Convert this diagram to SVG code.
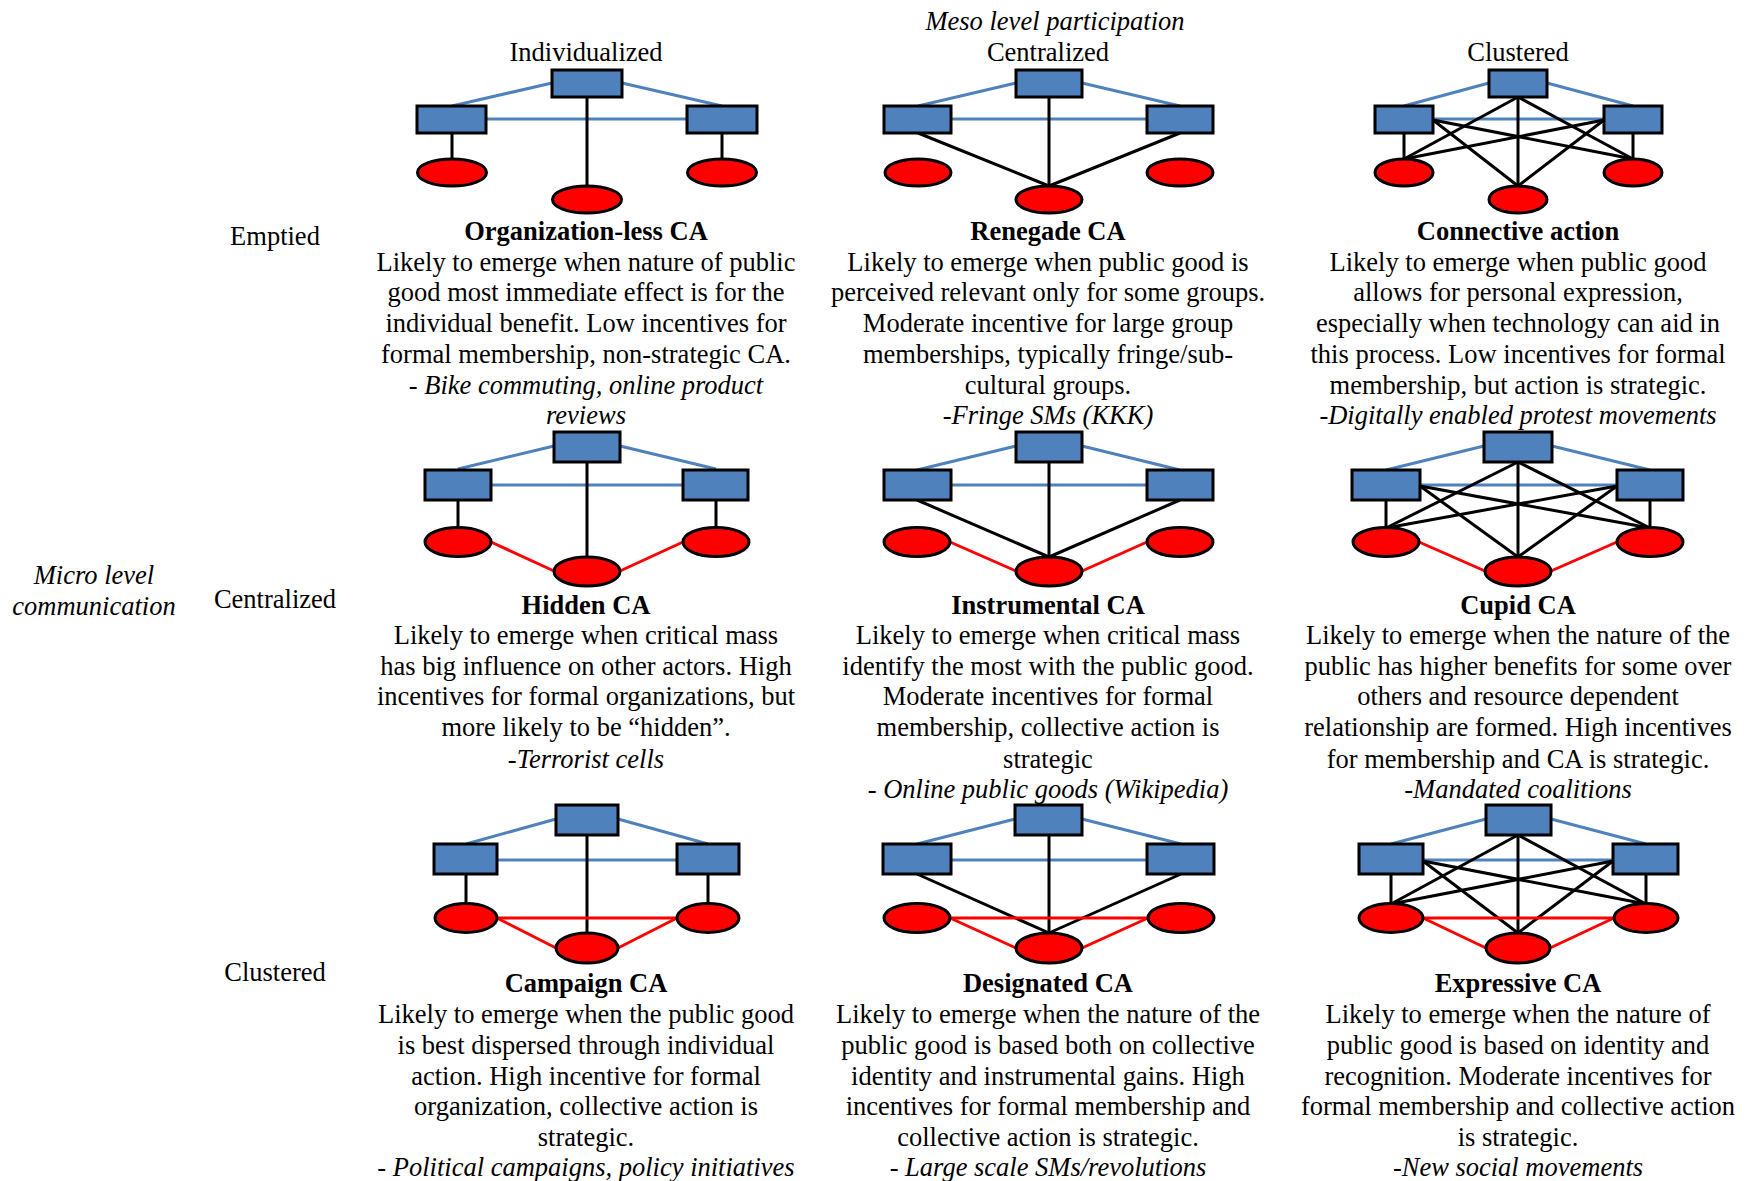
<svg xmlns="http://www.w3.org/2000/svg" width="1751" height="1181" viewBox="0 0 1751 1181">
  <style>
    .org { fill: #4F81BD; stroke: #000; stroke-width: 3; }
    .ind { fill: #FF0000; stroke: #000; stroke-width: 3; }
    .b { stroke: #4F81BD; stroke-width: 3; fill: none; }
    .k { stroke: #000; stroke-width: 3; fill: none; }
    .r { stroke: #FF0000; stroke-width: 3; fill: none; }
    text { font-family: "Liberation Serif", "Times New Roman", serif; font-size: 26.5px; fill: #000; text-anchor: middle; }
    .ttl { font-weight: bold; }
    .it { font-style: italic; }
  </style>
  <rect width="1751" height="1181" fill="#fff"/>

  <!-- axis headings -->
  <g id="headings">
    <text class="it" x="1055" y="30">Meso level participation</text>
    <text x="586" y="61">Individualized</text>
    <text x="1048" y="61">Centralized</text>
    <text x="1518" y="61">Clustered</text>
    <text class="it" x="94" y="584">Micro level</text>
    <text class="it" x="94" y="615">communication</text>
    <text x="275" y="245">Emptied</text>
    <text x="275" y="608">Centralized</text>
    <text x="275" y="981">Clustered</text>
  </g>

  <!-- links between organisations (blue), organisation-to-individual (black), individual-to-individual (red) -->
  <g id="connectors">
    <!-- row 1 -->
    <line class="b" x1="552" y1="83" x2="452" y2="106"/>
    <line class="b" x1="622" y1="83" x2="722" y2="106"/>
    <line class="b" x1="486" y1="119" x2="687" y2="119"/>
    <line class="k" x1="452" y1="133" x2="452" y2="159"/>
    <line class="k" x1="587" y1="97" x2="587" y2="186"/>
    <line class="k" x1="722" y1="133" x2="722" y2="159"/>

    <line class="b" x1="1016" y1="83" x2="918" y2="106"/>
    <line class="b" x1="1082" y1="83" x2="1180" y2="106"/>
    <line class="b" x1="951" y1="119" x2="1147" y2="119"/>
    <line class="k" x1="918" y1="133" x2="1049" y2="186"/>
    <line class="k" x1="1049" y1="97" x2="1049" y2="186"/>
    <line class="k" x1="1180" y1="133" x2="1049" y2="186"/>

    <line class="b" x1="1489" y1="83" x2="1404" y2="106"/>
    <line class="b" x1="1547" y1="83" x2="1633" y2="106"/>
    <line class="b" x1="1433" y1="119" x2="1604" y2="119"/>
    <line class="k" x1="1404" y1="133" x2="1404" y2="159"/>
    <line class="k" x1="1633" y1="133" x2="1633" y2="159"/>
    <line class="k" x1="1518" y1="97" x2="1404" y2="159"/>
    <line class="k" x1="1518" y1="97" x2="1633" y2="159"/>
    <line class="k" x1="1518" y1="97" x2="1518" y2="186"/>
    <line class="k" x1="1433" y1="120" x2="1633" y2="159"/>
    <line class="k" x1="1433" y1="120" x2="1518" y2="186"/>
    <line class="k" x1="1604" y1="120" x2="1404" y2="159"/>
    <line class="k" x1="1604" y1="120" x2="1518" y2="186"/>

    <!-- row 2 -->
    <line class="b" x1="554" y1="446" x2="458" y2="469"/>
    <line class="b" x1="620" y1="446" x2="716" y2="469"/>
    <line class="b" x1="491" y1="485" x2="683" y2="485"/>
    <line class="k" x1="458" y1="500" x2="458" y2="528"/>
    <line class="k" x1="587" y1="462" x2="587" y2="557"/>
    <line class="k" x1="716" y1="500" x2="716" y2="528"/>
    <line class="r" x1="491" y1="542" x2="554" y2="571"/>
    <line class="r" x1="620" y1="571" x2="683" y2="542"/>

    <line class="b" x1="1016" y1="446" x2="917" y2="470"/>
    <line class="b" x1="1082" y1="446" x2="1180" y2="470"/>
    <line class="b" x1="951" y1="485" x2="1147" y2="485"/>
    <line class="k" x1="917" y1="500" x2="1049" y2="557"/>
    <line class="k" x1="1049" y1="462" x2="1049" y2="557"/>
    <line class="k" x1="1180" y1="500" x2="1049" y2="557"/>
    <line class="r" x1="950" y1="542" x2="1016" y2="571"/>
    <line class="r" x1="1082" y1="571" x2="1147" y2="542"/>

    <line class="b" x1="1484" y1="446" x2="1386" y2="470"/>
    <line class="b" x1="1552" y1="446" x2="1650" y2="470"/>
    <line class="b" x1="1420" y1="485" x2="1617" y2="485"/>
    <line class="k" x1="1386" y1="500" x2="1386" y2="528"/>
    <line class="k" x1="1650" y1="500" x2="1650" y2="528"/>
    <line class="k" x1="1518" y1="462" x2="1386" y2="528"/>
    <line class="k" x1="1518" y1="462" x2="1650" y2="528"/>
    <line class="k" x1="1518" y1="462" x2="1518" y2="557"/>
    <line class="k" x1="1420" y1="486" x2="1650" y2="528"/>
    <line class="k" x1="1420" y1="486" x2="1518" y2="557"/>
    <line class="k" x1="1617" y1="486" x2="1386" y2="528"/>
    <line class="k" x1="1617" y1="486" x2="1518" y2="557"/>
    <line class="r" x1="1419" y1="542" x2="1485" y2="571"/>
    <line class="r" x1="1551" y1="571" x2="1617" y2="542"/>

    <!-- row 3 -->
    <line class="b" x1="556" y1="819" x2="466" y2="844"/>
    <line class="b" x1="618" y1="819" x2="708" y2="844"/>
    <line class="b" x1="497" y1="860" x2="677" y2="860"/>
    <line class="k" x1="466" y1="874" x2="466" y2="904"/>
    <line class="k" x1="587" y1="835" x2="587" y2="933"/>
    <line class="k" x1="708" y1="874" x2="708" y2="904"/>
    <line class="r" x1="497" y1="918" x2="677" y2="918"/>
    <line class="r" x1="497" y1="918" x2="556" y2="948"/>
    <line class="r" x1="618" y1="948" x2="677" y2="918"/>

    <line class="b" x1="1015" y1="819" x2="917" y2="844"/>
    <line class="b" x1="1082" y1="819" x2="1181" y2="844"/>
    <line class="b" x1="951" y1="860" x2="1147" y2="860"/>
    <line class="k" x1="917" y1="874" x2="1049" y2="933"/>
    <line class="k" x1="1049" y1="835" x2="1049" y2="933"/>
    <line class="k" x1="1181" y1="874" x2="1049" y2="933"/>
    <line class="r" x1="950" y1="918" x2="1148" y2="918"/>
    <line class="r" x1="950" y1="918" x2="1016" y2="948"/>
    <line class="r" x1="1082" y1="948" x2="1148" y2="918"/>

    <line class="b" x1="1486" y1="819" x2="1391" y2="844"/>
    <line class="b" x1="1551" y1="819" x2="1646" y2="844"/>
    <line class="b" x1="1423" y1="860" x2="1613" y2="860"/>
    <line class="k" x1="1391" y1="874" x2="1391" y2="904"/>
    <line class="k" x1="1646" y1="874" x2="1646" y2="904"/>
    <line class="k" x1="1518" y1="835" x2="1391" y2="904"/>
    <line class="k" x1="1518" y1="835" x2="1646" y2="904"/>
    <line class="k" x1="1518" y1="835" x2="1518" y2="933"/>
    <line class="k" x1="1423" y1="861" x2="1646" y2="904"/>
    <line class="k" x1="1423" y1="861" x2="1518" y2="933"/>
    <line class="k" x1="1613" y1="861" x2="1391" y2="904"/>
    <line class="k" x1="1613" y1="861" x2="1518" y2="933"/>
    <line class="r" x1="1423" y1="918" x2="1614" y2="918"/>
    <line class="r" x1="1423" y1="918" x2="1486" y2="948"/>
    <line class="r" x1="1550" y1="948" x2="1614" y2="918"/>
  </g>

  <!-- row 1 nodes -->
  <g id="r1c1-org-top"><rect class="org" x="552" y="70" width="70" height="27"/></g>
  <g id="r1c1-org-left"><rect class="org" x="417" y="106" width="69" height="27"/></g>
  <g id="r1c1-org-right"><rect class="org" x="687" y="106" width="70" height="27"/></g>
  <g id="r1c1-ind-left"><ellipse class="ind" cx="452" cy="172.5" rx="34.5" ry="13.5"/></g>
  <g id="r1c1-ind-mid"><ellipse class="ind" cx="587" cy="199.5" rx="34.5" ry="13.5"/></g>
  <g id="r1c1-ind-right"><ellipse class="ind" cx="722" cy="172.5" rx="34.5" ry="13.5"/></g>

  <g id="r1c2-org-top"><rect class="org" x="1016" y="70" width="66" height="27"/></g>
  <g id="r1c2-org-left"><rect class="org" x="884" y="106" width="67" height="27"/></g>
  <g id="r1c2-org-right"><rect class="org" x="1147" y="106" width="66" height="27"/></g>
  <g id="r1c2-ind-left"><ellipse class="ind" cx="918" cy="172.5" rx="33" ry="13.5"/></g>
  <g id="r1c2-ind-mid"><ellipse class="ind" cx="1049" cy="199.5" rx="33" ry="13.5"/></g>
  <g id="r1c2-ind-right"><ellipse class="ind" cx="1180" cy="172.5" rx="33" ry="13.5"/></g>

  <g id="r1c3-org-top"><rect class="org" x="1489" y="70" width="58" height="27"/></g>
  <g id="r1c3-org-left"><rect class="org" x="1375" y="106" width="58" height="27"/></g>
  <g id="r1c3-org-right"><rect class="org" x="1604" y="106" width="58" height="27"/></g>
  <g id="r1c3-ind-left"><ellipse class="ind" cx="1404" cy="172.5" rx="29" ry="13.5"/></g>
  <g id="r1c3-ind-mid"><ellipse class="ind" cx="1518" cy="199.5" rx="29" ry="13.5"/></g>
  <g id="r1c3-ind-right"><ellipse class="ind" cx="1633" cy="172.5" rx="29" ry="13.5"/></g>

  <!-- row 2 nodes -->
  <g id="r2c1-org-top"><rect class="org" x="554" y="432" width="66" height="30"/></g>
  <g id="r2c1-org-left"><rect class="org" x="425" y="470" width="66" height="30"/></g>
  <g id="r2c1-org-right"><rect class="org" x="683" y="470" width="65" height="30"/></g>
  <g id="r2c1-ind-left"><ellipse class="ind" cx="458" cy="542" rx="33" ry="14.5"/></g>
  <g id="r2c1-ind-mid"><ellipse class="ind" cx="587" cy="571.5" rx="33" ry="14.5"/></g>
  <g id="r2c1-ind-right"><ellipse class="ind" cx="716" cy="542" rx="33" ry="14.5"/></g>

  <g id="r2c2-org-top"><rect class="org" x="1016" y="432" width="66" height="30"/></g>
  <g id="r2c2-org-left"><rect class="org" x="884" y="470" width="67" height="30"/></g>
  <g id="r2c2-org-right"><rect class="org" x="1147" y="470" width="66" height="30"/></g>
  <g id="r2c2-ind-left"><ellipse class="ind" cx="917" cy="542" rx="33" ry="14.5"/></g>
  <g id="r2c2-ind-mid"><ellipse class="ind" cx="1049" cy="571.5" rx="33" ry="14.5"/></g>
  <g id="r2c2-ind-right"><ellipse class="ind" cx="1180" cy="542" rx="33" ry="14.5"/></g>

  <g id="r2c3-org-top"><rect class="org" x="1484" y="432" width="68" height="30"/></g>
  <g id="r2c3-org-left"><rect class="org" x="1352" y="470" width="68" height="30"/></g>
  <g id="r2c3-org-right"><rect class="org" x="1617" y="470" width="66" height="30"/></g>
  <g id="r2c3-ind-left"><ellipse class="ind" cx="1386" cy="542" rx="33" ry="14.5"/></g>
  <g id="r2c3-ind-mid"><ellipse class="ind" cx="1518" cy="571.5" rx="33" ry="14.5"/></g>
  <g id="r2c3-ind-right"><ellipse class="ind" cx="1650" cy="542" rx="33" ry="14.5"/></g>

  <!-- row 3 nodes -->
  <g id="r3c1-org-top"><rect class="org" x="556" y="805" width="62" height="30"/></g>
  <g id="r3c1-org-left"><rect class="org" x="434" y="844" width="63" height="30"/></g>
  <g id="r3c1-org-right"><rect class="org" x="677" y="844" width="62" height="30"/></g>
  <g id="r3c1-ind-left"><ellipse class="ind" cx="466" cy="918" rx="31" ry="14.5"/></g>
  <g id="r3c1-ind-mid"><ellipse class="ind" cx="587" cy="948" rx="31" ry="15"/></g>
  <g id="r3c1-ind-right"><ellipse class="ind" cx="708" cy="918" rx="31" ry="14.5"/></g>

  <g id="r3c2-org-top"><rect class="org" x="1015" y="805" width="67" height="30"/></g>
  <g id="r3c2-org-left"><rect class="org" x="883" y="844" width="68" height="30"/></g>
  <g id="r3c2-org-right"><rect class="org" x="1147" y="844" width="67" height="30"/></g>
  <g id="r3c2-ind-left"><ellipse class="ind" cx="917" cy="918" rx="33" ry="14.5"/></g>
  <g id="r3c2-ind-mid"><ellipse class="ind" cx="1049" cy="948" rx="33" ry="15"/></g>
  <g id="r3c2-ind-right"><ellipse class="ind" cx="1181" cy="918" rx="33" ry="14.5"/></g>

  <g id="r3c3-org-top"><rect class="org" x="1486" y="805" width="65" height="30"/></g>
  <g id="r3c3-org-left"><rect class="org" x="1359" y="844" width="64" height="30"/></g>
  <g id="r3c3-org-right"><rect class="org" x="1613" y="844" width="65" height="30"/></g>
  <g id="r3c3-ind-left"><ellipse class="ind" cx="1391" cy="918" rx="32" ry="14.5"/></g>
  <g id="r3c3-ind-mid"><ellipse class="ind" cx="1518" cy="948" rx="32" ry="15"/></g>
  <g id="r3c3-ind-right"><ellipse class="ind" cx="1646" cy="918" rx="32" ry="14.5"/></g>

  <!-- descriptions -->
  <g id="r1c1-text">
    <text class="ttl" x="586" y="240">Organization-less CA</text>
    <text x="586" y="271">Likely to emerge when nature of public</text>
    <text x="586" y="301">good most immediate effect is for the</text>
    <text x="586" y="332">individual benefit. Low incentives for</text>
    <text x="586" y="363">formal membership, non-strategic CA.</text>
    <text x="586" y="394">- <tspan class="it">Bike commuting, online product</tspan></text>
    <text class="it" x="586" y="424">reviews</text>
  </g>
  <g id="r1c2-text">
    <text class="ttl" x="1048" y="240">Renegade CA</text>
    <text x="1048" y="271">Likely to emerge when public good is</text>
    <text x="1048" y="301">perceived relevant only for some groups.</text>
    <text x="1048" y="332">Moderate incentive for large group</text>
    <text x="1048" y="363">memberships, typically fringe/sub-</text>
    <text x="1048" y="394">cultural groups.</text>
    <text class="it" x="1048" y="424">-Fringe SMs (KKK)</text>
  </g>
  <g id="r1c3-text">
    <text class="ttl" x="1518" y="240">Connective action</text>
    <text x="1518" y="271">Likely to emerge when public good</text>
    <text x="1518" y="301">allows for personal expression,</text>
    <text x="1518" y="332">especially when technology can aid in</text>
    <text x="1518" y="363">this process. Low incentives for formal</text>
    <text x="1518" y="394">membership, but action is strategic.</text>
    <text class="it" x="1518" y="424">-Digitally enabled protest movements</text>
  </g>

  <g id="r2c1-text">
    <text class="ttl" x="586" y="614">Hidden CA</text>
    <text x="586" y="644">Likely to emerge when critical mass</text>
    <text x="586" y="675">has big influence on other actors. High</text>
    <text x="586" y="705">incentives for formal organizations, but</text>
    <text x="586" y="736">more likely to be “hidden”.</text>
    <text class="it" x="586" y="768">-Terrorist cells</text>
  </g>
  <g id="r2c2-text">
    <text class="ttl" x="1048" y="614">Instrumental CA</text>
    <text x="1048" y="644">Likely to emerge when critical mass</text>
    <text x="1048" y="675">identify the most with the public good.</text>
    <text x="1048" y="705">Moderate incentives for formal</text>
    <text x="1048" y="736">membership, collective action is</text>
    <text x="1048" y="768">strategic</text>
    <text x="1048" y="798">- <tspan class="it">Online public goods (Wikipedia)</tspan></text>
  </g>
  <g id="r2c3-text">
    <text class="ttl" x="1518" y="614">Cupid CA</text>
    <text x="1518" y="644">Likely to emerge when the nature of the</text>
    <text x="1518" y="675">public has higher benefits for some over</text>
    <text x="1518" y="705">others and resource dependent</text>
    <text x="1518" y="736">relationship are formed. High incentives</text>
    <text x="1518" y="768">for membership and CA is strategic.</text>
    <text class="it" x="1518" y="798">-Mandated coalitions</text>
  </g>

  <g id="r3c1-text">
    <text class="ttl" x="586" y="992">Campaign CA</text>
    <text x="586" y="1023">Likely to emerge when the public good</text>
    <text x="586" y="1054">is best dispersed through individual</text>
    <text x="586" y="1085">action. High incentive for formal</text>
    <text x="586" y="1115">organization, collective action is</text>
    <text x="586" y="1146">strategic.</text>
    <text x="586" y="1176">- <tspan class="it">Political campaigns, policy initiatives</tspan></text>
  </g>
  <g id="r3c2-text">
    <text class="ttl" x="1048" y="992">Designated CA</text>
    <text x="1048" y="1023">Likely to emerge when the nature of the</text>
    <text x="1048" y="1054">public good is based both on collective</text>
    <text x="1048" y="1085">identity and instrumental gains. High</text>
    <text x="1048" y="1115">incentives for formal membership and</text>
    <text x="1048" y="1146">collective action is strategic.</text>
    <text x="1048" y="1176">- <tspan class="it">Large scale SMs/revolutions</tspan></text>
  </g>
  <g id="r3c3-text">
    <text class="ttl" x="1518" y="992">Expressive CA</text>
    <text x="1518" y="1023">Likely to emerge when the nature of</text>
    <text x="1518" y="1054">public good is based on identity and</text>
    <text x="1518" y="1085">recognition. Moderate incentives for</text>
    <text x="1518" y="1115">formal membership and collective action</text>
    <text x="1518" y="1146">is strategic.</text>
    <text class="it" x="1518" y="1176">-New social movements</text>
  </g>
</svg>
